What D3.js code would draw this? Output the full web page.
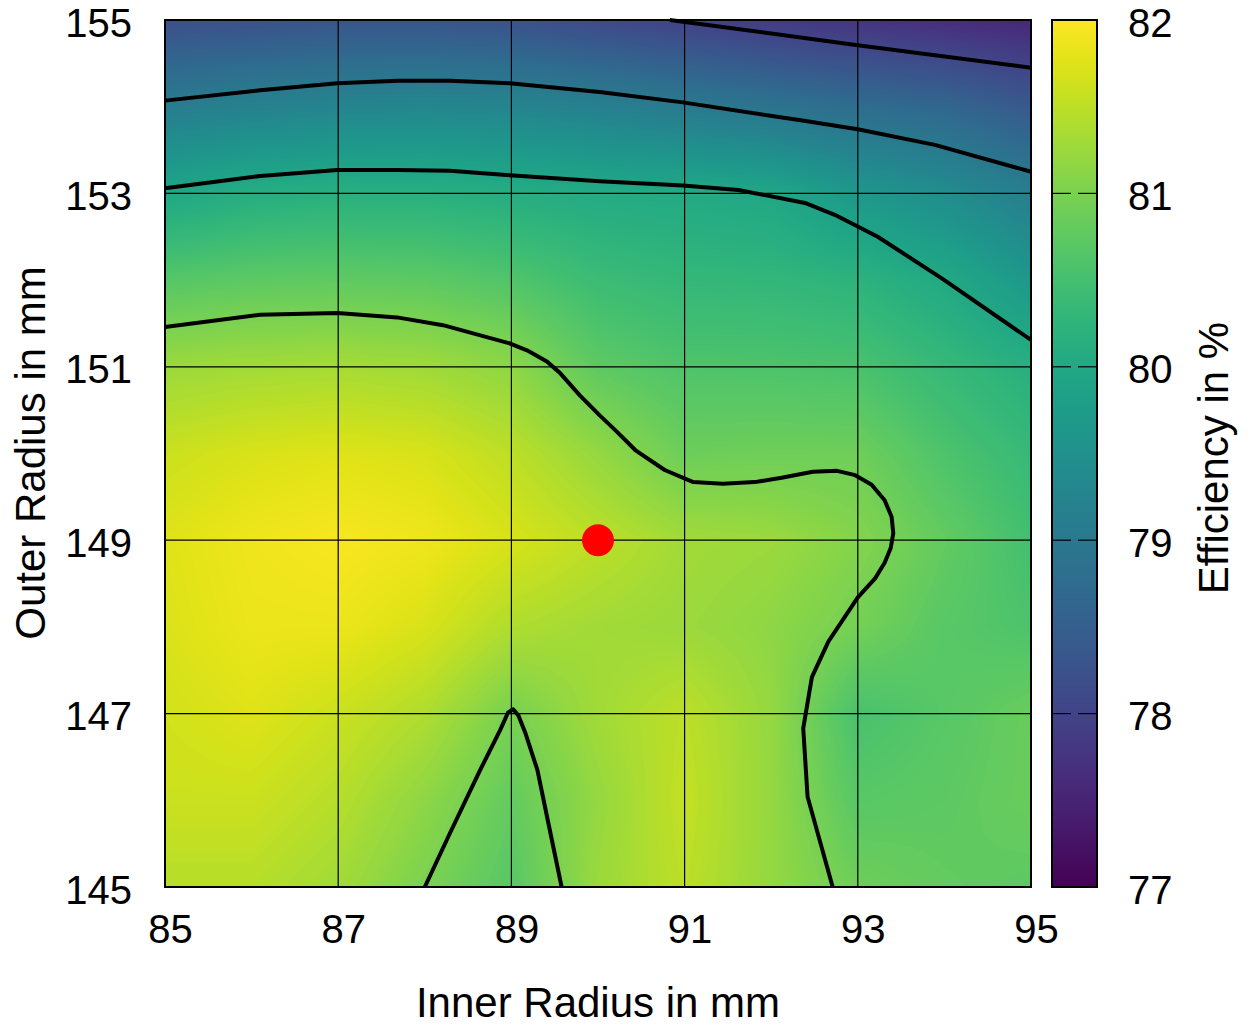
<!DOCTYPE html>
<html>
<head>
<meta charset="utf-8">
<script src="https://cdn.jsdelivr.net/npm/d3@7"></script>
<style>
  body { margin: 0; background: #fff; }
  text { font-family: "Liberation Sans", Arial, sans-serif; fill: #000; }
</style>
</head>
<body>
<svg id="chart" width="1255" height="1027"></svg>
<script>
// grid axes (mm)
const innerRadius = [85, 86, 87, 88, 89, 90, 91, 92, 93, 94, 95];
const outerRadius = [145, 146, 147, 148, 149, 150, 151, 152, 153, 154, 155];

// efficiency in %, one row per outer radius (145 -> 155), columns follow innerRadius
const efficiency = [
  [81.45, 81.45, 81.30, 81.00, 80.70, 81.25, 81.50, 81.20, 80.90, 80.80, 80.75],
  [81.60, 81.60, 81.45, 81.15, 80.80, 81.20, 81.55, 81.20, 80.70, 80.75, 80.85],
  [81.65, 81.75, 81.60, 81.40, 80.97, 81.30, 81.50, 81.20, 80.55, 80.70, 80.85],
  [81.72, 81.85, 81.85, 81.70, 81.40, 81.30, 81.25, 81.15, 80.95, 80.70, 80.60],
  [81.75, 81.88, 81.95, 81.88, 81.70, 81.50, 81.30, 81.25, 81.08, 80.80, 80.50],
  [81.60, 81.70, 81.75, 81.70, 81.50, 81.20, 80.88, 80.90, 80.90, 80.60, 80.35],
  [81.25, 81.30, 81.33, 81.28, 81.15, 80.75, 80.61, 80.60, 80.56, 80.35, 80.15],
  [80.68, 80.75, 80.77, 80.75, 80.63, 80.42, 80.32, 80.30, 80.22, 80.02, 79.65],
  [79.96, 80.11, 80.16, 80.16, 80.10, 80.05, 80.03, 79.97, 79.66, 79.44, 79.13],
  [79.08, 79.19, 79.27, 79.30, 79.27, 79.17, 79.04, 78.90, 78.76, 78.64, 78.38],
  [78.20, 78.25, 78.30, 78.30, 78.25, 78.10, 77.98, 77.85, 77.75, 77.65, 77.55]
];

// contour lines, [inner, outer]
const contour78 = [[90.83, 155.0], [93.0, 154.71], [95.0, 154.45]];
const contour79 = [[85.0, 154.07], [86.10, 154.19], [86.99, 154.27], [87.69, 154.30], [88.29, 154.30],
  [88.98, 154.27], [90.02, 154.17], [90.98, 154.05], [92.36, 153.84], [93.0, 153.74], [93.89, 153.56], [95.0, 153.25]];
const contour80 = [[85.0, 153.06], [86.10, 153.20], [86.99, 153.27], [87.69, 153.27], [88.29, 153.26],
  [88.98, 153.21], [90.02, 153.14], [90.98, 153.09], [91.62, 153.04], [92.39, 152.89], [92.74, 152.75],
  [93.23, 152.50], [93.97, 152.02], [95.0, 151.31]];
const contour81a = [[85.0, 151.46], [86.10, 151.60], [86.99, 151.62], [87.68, 151.57], [88.21, 151.48],
  [88.98, 151.27], [89.18, 151.19], [89.41, 151.06], [89.56, 150.93], [89.79, 150.67], [90.02, 150.44],
  [90.22, 150.25], [90.43, 150.04], [90.77, 149.81], [91.10, 149.67], [91.44, 149.65], [91.81, 149.67],
  [92.12, 149.72], [92.48, 149.79], [92.76, 149.80], [92.97, 149.75], [93.16, 149.64], [93.31, 149.46],
  [93.39, 149.27], [93.41, 149.08], [93.38, 148.91], [93.31, 148.74], [93.20, 148.56], [93.0, 148.34],
  [92.66, 147.83], [92.47, 147.42], [92.37, 146.83], [92.42, 146.04], [92.71, 145.0]];
const contour81b = [[88.0, 145.0], [88.29, 145.62], [88.64, 146.35], [88.87, 146.81], [88.96, 147.01],
  [89.02, 147.05], [89.08, 146.98], [89.16, 146.78], [89.30, 146.35], [89.42, 145.77], [89.58, 145.0]];
const contours = [contour78, contour79, contour80, contour81a, contour81b];

// chosen design point
const optimum = [90, 149];

const xTicks = [85, 87, 89, 91, 93, 95];
const yTicks = [145, 147, 149, 151, 153, 155];
const cbTicks = [77, 78, 79, 80, 81, 82];

let svg = d3.select("#chart");

// plot frame
let pLeft = 165, pRight = 1031, pTop = 20, pBottom = 887;
let cbLeft = 1052, cbRight = 1097;

let xScale = d3.scaleLinear().domain([85, 95]).range([pLeft, pRight]);
let yScale = d3.scaleLinear().domain([145, 155]).range([pBottom, pTop]);
let color = d3.scaleSequential(d3.interpolateViridis).domain([77, 82]);
let cbScale = d3.scaleLinear().domain([77, 82]).range([pBottom, pTop]);

// heat map: bilinear between grid values, painted into a canvas
let w = pRight - pLeft, h = pBottom - pTop;
let canvas = document.createElement("canvas");
canvas.width = w;
canvas.height = h;
let ctx = canvas.getContext("2d");
let img = ctx.createImageData(w, h);
let ix = d3.scaleLinear().domain(d3.extent(innerRadius)).range([0, innerRadius.length - 1]);
let iy = d3.scaleLinear().domain(d3.extent(outerRadius)).range([0, outerRadius.length - 1]);
for (let j = 0; j < h; j++) {
  let fy = iy(yScale.invert(pTop + j + 0.5));
  let y0 = Math.max(0, Math.min(Math.floor(fy), outerRadius.length - 2)), ty = fy - y0;
  for (let i = 0; i < w; i++) {
    let fx = ix(xScale.invert(pLeft + i + 0.5));
    let x0 = Math.max(0, Math.min(Math.floor(fx), innerRadius.length - 2)), tx = fx - x0;
    let v = (1 - ty) * ((1 - tx) * efficiency[y0][x0] + tx * efficiency[y0][x0 + 1]) +
            ty * ((1 - tx) * efficiency[y0 + 1][x0] + tx * efficiency[y0 + 1][x0 + 1]);
    let c = d3.rgb(color(v));
    let k = (j * w + i) * 4;
    img.data[k] = c.r; img.data[k + 1] = c.g; img.data[k + 2] = c.b; img.data[k + 3] = 255;
  }
}
ctx.putImageData(img, 0, 0);
svg.append("image")
  .attr("x", pLeft).attr("y", pTop)
  .attr("width", w).attr("height", h)
  .attr("href", canvas.toDataURL());

// grid
svg.append("g").selectAll("line")
  .data(xTicks).enter().append("line")
  .attr("x1", d => xScale(d)).attr("x2", d => xScale(d))
  .attr("y1", pTop).attr("y2", pBottom)
  .style("stroke", "#000").style("stroke-width", 1.2);
svg.append("g").selectAll("line")
  .data(yTicks).enter().append("line")
  .attr("x1", pLeft).attr("x2", pRight)
  .attr("y1", d => yScale(d)).attr("y2", d => yScale(d))
  .style("stroke", "#000").style("stroke-width", 1.2);

// contour lines
let line = d3.line().x(d => xScale(d[0])).y(d => yScale(d[1]));
svg.append("g").selectAll("path")
  .data(contours).enter().append("path")
  .attr("d", line)
  .style("fill", "none").style("stroke", "#000").style("stroke-width", 4)
  .style("stroke-linejoin", "round");

// marked point
svg.append("circle")
  .attr("cx", xScale(optimum[0])).attr("cy", yScale(optimum[1]))
  .attr("r", 16).style("fill", "#ff0000");

// frame
svg.append("rect")
  .attr("x", pLeft).attr("y", pTop).attr("width", w).attr("height", h)
  .style("fill", "none").style("stroke", "#000").style("stroke-width", 2);

// axes
let xAxis = svg.append("g")
  .attr("transform", `translate(0,${pBottom})`)
  .call(d3.axisBottom(xScale).tickValues(xTicks).tickSize(0).tickPadding(0));
xAxis.select(".domain").remove();
xAxis.selectAll("text").attr("font-size", 40).attr("dx", 5).attr("y", 56).attr("dy", 0);

let yAxis = svg.append("g")
  .attr("transform", `translate(${pLeft},0)`)
  .call(d3.axisLeft(yScale).tickValues(yTicks).tickSize(0).tickPadding(33));
yAxis.select(".domain").remove();
yAxis.selectAll("text").attr("font-size", 40).attr("dy", "0.4em");

// axis titles
svg.append("text")
  .attr("x", 598).attr("y", 1017)
  .attr("text-anchor", "middle").attr("font-size", 42)
  .text("Inner Radius in mm");
svg.append("text")
  .attr("transform", "translate(45,453) rotate(-90)")
  .attr("text-anchor", "middle").attr("font-size", 42)
  .text("Outer Radius in mm");
svg.append("text")
  .attr("transform", "translate(1228,458) rotate(-90)")
  .attr("text-anchor", "middle").attr("font-size", 42)
  .text("Efficiency in %");

// colour bar
let grad = svg.append("defs").append("linearGradient")
  .attr("id", "cbGrad").attr("x1", 0).attr("y1", 1).attr("x2", 0).attr("y2", 0);
grad.selectAll("stop")
  .data(d3.range(0, 1.0001, 0.05)).enter().append("stop")
  .attr("offset", d => d)
  .attr("stop-color", d => color(77 + d * 5));
svg.append("rect")
  .attr("x", cbLeft).attr("y", pTop).attr("width", cbRight - cbLeft).attr("height", h)
  .style("fill", "url(#cbGrad)");
let cbInner = cbTicks.slice(1, -1);
svg.append("g").selectAll("line")
  .data(cbInner).enter().append("line")
  .attr("x1", cbLeft).attr("x2", cbLeft + 19)
  .attr("y1", d => cbScale(d)).attr("y2", d => cbScale(d))
  .style("stroke", "#000").style("stroke-width", 1.2);
svg.append("g").selectAll("line")
  .data(cbInner).enter().append("line")
  .attr("x1", cbRight - 19).attr("x2", cbRight)
  .attr("y1", d => cbScale(d)).attr("y2", d => cbScale(d))
  .style("stroke", "#000").style("stroke-width", 1.2);
svg.append("rect")
  .attr("x", cbLeft).attr("y", pTop).attr("width", cbRight - cbLeft).attr("height", h)
  .style("fill", "none").style("stroke", "#000").style("stroke-width", 2);

let cbAxis = svg.append("g")
  .attr("transform", `translate(${cbRight},0)`)
  .call(d3.axisRight(cbScale).tickValues(cbTicks).tickFormat(d3.format("d")).tickSize(0).tickPadding(31));
cbAxis.select(".domain").remove();
cbAxis.selectAll("text").attr("font-size", 40).attr("dy", "0.4em");

svg.selectAll(".tick text").style("font-family", "'Liberation Sans', Arial, sans-serif").attr("fill", "#000");
</script>
</body>
</html>
